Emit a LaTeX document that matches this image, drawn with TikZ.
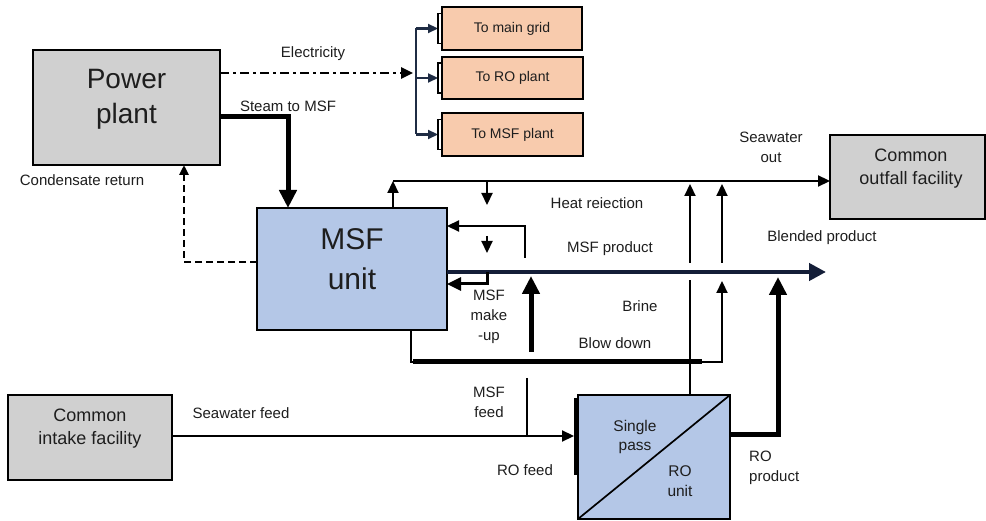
\documentclass[tikz,border=0pt]{standalone}
\usepackage{fontspec}
\setmainfont{Liberation Sans}
\usetikzlibrary{arrows.meta,calc}
\definecolor{boxgray}{HTML}{D0D0D0}
\definecolor{peach}{HTML}{F8CBAD}
\definecolor{unitblue}{HTML}{B4C7E7}
\definecolor{navy}{HTML}{141E38}
\definecolor{busblue}{HTML}{1F2C44}
\definecolor{txt}{HTML}{1E1E1E}
\tikzset{
  box/.style={draw=black, line width=2pt, inner sep=0pt, outer sep=0pt},
  graybox/.style={box, fill=boxgray},
  peachbox/.style={box, fill=peach, line width=1.8pt, font=\fontsize{14}{17}\selectfont, text=txt},
  bluebox/.style={box, fill=unitblue},
  lbl/.style={font=\fontsize{15}{20}\selectfont, align=center, inner sep=0pt, text=txt},
  boxtxt/.style={font=\fontsize{18}{23}\selectfont, align=center, inner sep=0pt, text=txt},
  flow/.style={line width=2.2pt},
  heavy/.style={line width=5pt},
  thinarrow/.style={-{Triangle[width=11pt,length=12pt]}},
  smallarrow/.style={-{Triangle[width=9pt,length=10pt]}},
  medarrow/.style={-{Triangle[width=13pt,length=14pt]}},
  bigarrow/.style={-{Triangle[width=17pt,length=18pt]}},
  elecline/.style={line width=2.6pt, dash pattern=on 9pt off 4pt on 3pt off 4pt},
  dashline/.style={line width=2.6pt, dash pattern=on 7pt off 4pt},
  busline/.style={line width=2.2pt, draw=busblue},
  prodline/.style={line width=4.5pt, draw=navy, -{Triangle[width=17pt,length=17pt]}},
}
\begin{document}
\begin{tikzpicture}[x=1pt,y=-1pt]
\useasboundingbox[fill=white] (0,0) rectangle (986,521);

% ---------- boxes ----------
\node[graybox, minimum width=187pt, minimum height=115pt] (pp) at (126.5,107.5) {};
\node[font=\fontsize{28}{35}\selectfont, align=center, inner sep=0pt, text=txt] (pptext) at (126.5,99) {Power\\plant};

\node[peachbox, minimum width=140pt, minimum height=43pt] (g1) at (512,28.5) {To main grid};
\node[peachbox, minimum width=141pt, minimum height=42pt] (g2) at (512.5,78) {To RO plant};
\node[peachbox, minimum width=141pt, minimum height=43pt] (g3) at (512.5,134.5) {To MSF plant};

\node[bluebox, minimum width=190pt, minimum height=122pt] (msf) at (352,269) {};
\node[font=\fontsize{30}{40}\selectfont, align=center, inner sep=0pt, text=txt] (msftext) at (352,259) {MSF\\unit};

\node[graybox, minimum width=155pt, minimum height=84pt] (outfall) at (907.5,177) {};
\node[boxtxt] (outtext) at (911,169) {Common\\outfall facility};

\node[graybox, minimum width=164pt, minimum height=85pt] (intake) at (90,437.5) {};
\node[boxtxt] (intext) at (90,429) {Common\\intake facility};

\node[bluebox, minimum width=152pt, minimum height=124pt] (ro) at (654,457) {};
\draw[line width=1.7pt] (ro.south west) -- (ro.north east);
\node[lbl, font=\fontsize{15.5}{19}\selectfont] (rotxt1) at (635,437) {Single\\pass};
\node[lbl, font=\fontsize{15.5}{20}\selectfont] (rotxt2) at (680,481) {RO\\unit};

% ---------- electricity ----------
\coordinate (ebus) at (416,73);
\draw[elecline, thinarrow, shorten >=3pt] (pp.east |- ebus) -- (ebus);
\draw[busline] (ebus |- g1.west) -- (ebus |- g3.west);
\foreach \g in {g1,g2,g3}{
  \draw[busline, smallarrow, shorten >=4pt] (ebus |- \g.west) -- (\g.west);
  \draw[line width=1.5pt] ($(\g.west)+(0,-15)$) -- ++(-4,0) -- ++(0,30) -- ++(4,0);
}

% ---------- steam and condensate ----------
\coordinate (steamx) at (288,117);
\draw[heavy, bigarrow] (pp.east |- steamx) -| (msf.north -| steamx);
\coordinate (condx) at (184,262);
\draw[dashline, smallarrow] (msf.west |- condx) -| (pp.south -| condx);

% ---------- seawater out / heat rejection ----------
\coordinate (hr) at (393,181);
\draw[flow, thinarrow] (msf.north -| hr) -- (hr);
\draw[flow, thinarrow] (hr) -- (outfall.west |- hr);
\coordinate (da1) at (487,181);
\coordinate (da2) at (487,205);
\coordinate (da3) at (487,236);
\coordinate (da4) at (487,253);
\draw[flow, thinarrow] (da1) -- (da2);
\draw[flow, thinarrow] (da3) -- (da4);
\coordinate (hretA) at (525,258);
\coordinate (hret) at (525,226);
\draw[flow, thinarrow] (hretA) |- (msf.east |- hret);

% verticals to seawater out
\coordinate (v1a) at (690,280);
\coordinate (v1b) at (690,263);
\coordinate (v1c) at (690,184);
\draw[flow] (ro.north -| v1a) -- (v1a);
\draw[flow, thinarrow] (v1b) -- (v1c);
\coordinate (v2a) at (722,263);
\coordinate (v2b) at (722,184);
\draw[flow, thinarrow] (v2a) -- (v2b);

% ---------- blow down ----------
\coordinate (bdL) at (411,362);
\coordinate (bd) at (722,362);
\coordinate (bdtip) at (722,281);
\draw[flow, thinarrow] (msf.south -| bdL) -- (bdL) -- (bd) -- (bdtip);
\coordinate (bdh1) at (413,362);
\coordinate (bdh2) at (702,362);
\draw[line width=5pt] (bdh1) -- (bdh2);

% ---------- MSF product ----------
\coordinate (prodend) at (826,272);
\draw[prodline] (msf.east |- prodend) -- (prodend);

% make-up
\coordinate (mu) at (487,272);
\coordinate (mu2) at (487,284);
\draw[line width=3pt, medarrow] (mu) -- (mu2) -- (msf.east |- mu2);

% thick up arrow
\coordinate (tu1) at (531,352);
\coordinate (tu2) at (531,276);
\draw[heavy, bigarrow] (tu1) -- (tu2);

% ---------- seawater feed / RO ----------
\coordinate (sf) at (576,436);
\draw[flow, thinarrow, shorten >=2pt] (intake.east |- sf) -- (sf);
\coordinate (bar1) at (575.5,398);
\coordinate (bar2) at (575.5,475);
\draw[line width=3pt] (bar1) -- (bar2);
\coordinate (mf1) at (527,378);
\draw[flow] (mf1) -- (mf1 |- sf);

\coordinate (rop) at (778,435);
\coordinate (roptip) at (778,277);
\draw[heavy, bigarrow] (ro.east |- rop) -| (roptip);

% ---------- labels ----------
\node[lbl] (lelec) at (313,54) {Electricity};
\node[lbl] (lsteam) at (288,106) {Steam to MSF};
\node[lbl] (lcond) at (82,180) {Condensate return};
\node[lbl] (lswout) at (771,147) {Seawater\\out};
\node[lbl] (lheat) at (597,203) {Heat reiection};
\node[lbl] (lprod) at (610,249) {MSF product};
\node[lbl] (lblend) at (822,238) {Blended product};
\node[lbl] (lmu) at (489,317) {MSF\\make\\-up};
\node[lbl] (lbrine) at (640,306) {Brine};
\node[lbl] (lbd) at (615,343) {Blow down};
\node[lbl] (lmf) at (489,402) {MSF\\feed};
\node[lbl] (lsf) at (241,413) {Seawater feed};
\node[lbl] (lrof) at (525,470) {RO feed};
\node[lbl, align=left, anchor=west] (lrop) at (749,468) {RO\\product};
\end{tikzpicture}
\end{document}
